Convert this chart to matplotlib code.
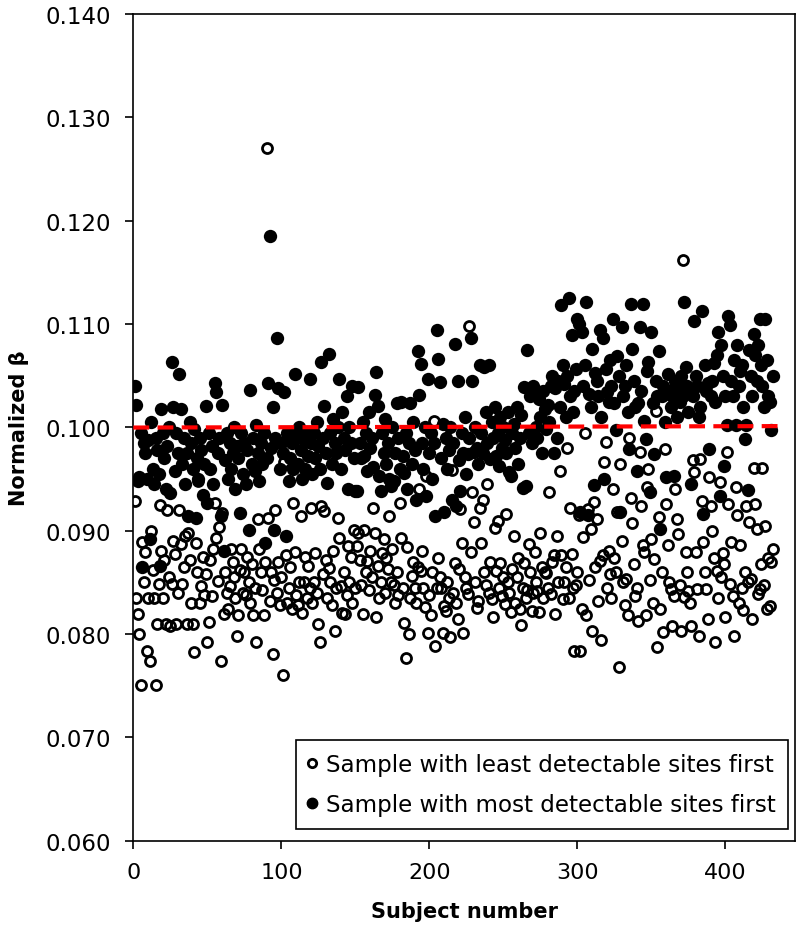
import numpy as np
import matplotlib
matplotlib.use("Agg")
import matplotlib.pyplot as plt
from matplotlib.lines import Line2D

# ---------------- data ----------------
most_first = [
    0.1040, 0.1022, 0.0948, 0.0952, 0.0995, 0.0865, 0.0985, 0.0975, 0.0950, 0.0988,
    0.0892, 0.1005, 0.0960, 0.0945, 0.0990, 0.0978, 0.0955, 0.0866, 0.1018, 0.0995,
    0.0970, 0.0940, 0.0982, 0.1000, 0.0936, 0.1063, 0.1020, 0.0958, 0.0995, 0.0975,
    0.1052, 0.1018, 0.0965, 0.0990, 0.0945, 0.0975, 0.0914, 0.1005, 0.0985, 0.0960,
    0.0998, 0.0912, 0.0970, 0.0950, 0.0990, 0.0978, 0.0935, 0.0965, 0.1021, 0.0927,
    0.0995, 0.0960, 0.0982, 0.0945, 0.1043, 0.1034, 0.0975, 0.0990, 0.0914, 0.1022,
    0.0880, 0.0968, 0.0995, 0.0950, 0.0985, 0.0960, 0.0975, 0.1000, 0.0940, 0.0982,
    0.0970, 0.0917, 0.0995, 0.0955, 0.0985, 0.0945, 0.0978, 0.0901, 0.1036, 0.0965,
    0.0990, 0.0958, 0.1002, 0.0975, 0.0948, 0.0985, 0.0965, 0.0995, 0.0888, 0.0970,
    0.1043, 0.1185, 0.0980, 0.1020, 0.0901, 0.0990, 0.1086, 0.1038, 0.0960, 0.0985,
    0.0975, 0.1034, 0.0895, 0.0995, 0.0948, 0.0970, 0.0985, 0.0960, 0.1052, 0.0995,
    0.0965, 0.1000, 0.0978, 0.0950, 0.0988, 0.0960, 0.0995, 0.0972, 0.1047, 0.0985,
    0.0955, 0.0995, 0.0970, 0.1005, 0.0982, 0.0960, 0.1063, 0.0990, 0.1021, 0.0975,
    0.0946, 0.1071, 0.0995, 0.0965, 0.1008, 0.0985, 0.0975, 0.1000, 0.1047, 0.0960,
    0.1015, 0.0990, 0.0978, 0.1030, 0.0940, 0.1000, 0.0985, 0.1040, 0.0970, 0.0938,
    0.0938, 0.1039, 0.0985, 0.0970, 0.1005, 0.0972, 0.0995, 0.0958, 0.1015, 0.0980,
    0.0990, 0.0962, 0.1031, 0.1054, 0.1021, 0.0953, 0.0938, 0.0995, 0.0975, 0.1008,
    0.0965, 0.0985, 0.0950, 0.0943, 0.1000, 0.0948, 0.0975, 0.1024, 0.0990, 0.0960,
    0.1025, 0.0972, 0.0956, 0.0995, 0.0940, 0.0985, 0.1024, 0.0965, 0.1005, 0.0978,
    0.0930, 0.1074, 0.1031, 0.1061, 0.0985, 0.0960, 0.1000, 0.0934, 0.1047, 0.0975,
    0.0995, 0.0950, 0.0985, 0.0914, 0.1094, 0.1066, 0.1044, 0.0970, 0.1003, 0.0918,
    0.0990, 0.0960, 0.0978, 0.1000, 0.0930, 0.0985, 0.1081, 0.0924, 0.1045, 0.0968,
    0.0938, 0.0995, 0.0975, 0.1010, 0.0955, 0.0974, 0.0990, 0.1086, 0.1045, 0.0976,
    0.1000, 0.0980, 0.0965, 0.1060, 0.0995, 0.0975, 0.1058, 0.1015, 0.0985, 0.1060,
    0.0969, 0.1005, 0.0990, 0.1020, 0.0972, 0.0995, 0.0963, 0.1010, 0.0980, 0.1000,
    0.0988, 0.0975, 0.1015, 0.0957, 0.0953, 0.0995, 0.1003, 0.0980, 0.1020, 0.0965,
    0.0990, 0.1012, 0.0941, 0.1039, 0.0943, 0.1075, 0.0995, 0.1030, 0.0985, 0.1040,
    0.1031, 0.1000, 0.0990, 0.1027, 0.1010, 0.0975, 0.1035, 0.1018, 0.0998, 0.1022,
    0.1005, 0.1040, 0.1050, 0.0975, 0.1038, 0.0990, 0.1045, 0.1020, 0.1118, 0.1060,
    0.1042, 0.1010, 0.1050, 0.1125, 0.1030, 0.1089, 0.1015, 0.1035, 0.1056, 0.1105,
    0.1100, 0.0918, 0.1092, 0.1040, 0.1060, 0.1121, 0.0915, 0.1032, 0.1020, 0.1076,
    0.0944, 0.1053, 0.1045, 0.1030, 0.1094, 0.1010, 0.1086, 0.0950, 0.1056, 0.1034,
    0.1025, 0.1065, 0.1040, 0.1105, 0.1024, 0.0997, 0.1069, 0.1050, 0.0918, 0.1097,
    0.1030, 0.1040, 0.1060, 0.1015, 0.0979, 0.1119, 0.1076, 0.1045, 0.1020, 0.0958,
    0.1024, 0.1097, 0.1035, 0.1119, 0.1006, 0.0989, 0.1055, 0.1063, 0.0937, 0.1092,
    0.1024, 0.0974, 0.1045, 0.1030, 0.1074, 0.0902, 0.1030, 0.1040, 0.1005, 0.0952,
    0.1052, 0.1035, 0.1020, 0.1030, 0.0953, 0.1045, 0.1010, 0.1040, 0.1025, 0.1050,
    0.1030, 0.1121, 0.1058, 0.1040, 0.1015, 0.1035, 0.0945, 0.1030, 0.1103, 0.1050,
    0.1040, 0.1010, 0.1020, 0.1113, 0.0916, 0.1060, 0.1035, 0.1043, 0.0979, 0.1030,
    0.1045, 0.1062, 0.1025, 0.1070, 0.1092, 0.0934, 0.1080, 0.1050, 0.0963, 0.1030,
    0.1002, 0.1108, 0.1099, 0.1045, 0.1030, 0.1065, 0.1002, 0.1080, 0.1040, 0.1055,
    0.1060, 0.1020, 0.0989, 0.1002, 0.0939, 0.1075, 0.1050, 0.1030, 0.1090, 0.1070,
    0.1045, 0.1080, 0.1105, 0.1060, 0.1040, 0.1020, 0.1105, 0.1065, 0.1030, 0.1025,
    0.0997, 0.1050,
]

least_first = [
    0.0929, 0.0835, 0.0819, 0.0800, 0.0751, 0.0889, 0.0850, 0.0879, 0.0784, 0.0835,
    0.0774, 0.0900, 0.0862, 0.0835, 0.0751, 0.0810, 0.0848, 0.0925, 0.0880, 0.0835,
    0.0872, 0.0810, 0.0920, 0.0855, 0.0808, 0.0848, 0.0890, 0.0877, 0.0810, 0.0840,
    0.0920, 0.0887, 0.0848, 0.0865, 0.0895, 0.0810, 0.0898, 0.0872, 0.0830, 0.0810,
    0.0783, 0.0888, 0.0860, 0.0948, 0.0830, 0.0846, 0.0875, 0.0838, 0.0858, 0.0792,
    0.0812, 0.0872, 0.0837, 0.0882, 0.0927, 0.0893, 0.0851, 0.0904, 0.0774, 0.0917,
    0.0819, 0.0860, 0.0840, 0.0824, 0.0846, 0.0882, 0.0870, 0.0855, 0.0835, 0.0798,
    0.0818, 0.0862, 0.0882, 0.0840, 0.0860, 0.0838, 0.0875, 0.0850, 0.0830, 0.0868,
    0.0818, 0.0845, 0.0792, 0.0911, 0.0882, 0.0860, 0.0843, 0.0818, 0.0870, 0.1270,
    0.0912, 0.0832, 0.0860, 0.0781, 0.0852, 0.0920, 0.0840, 0.0870, 0.0828, 0.0855,
    0.0760, 0.0966, 0.0876, 0.0830, 0.0845, 0.0865, 0.0824, 0.0927, 0.0879, 0.0838,
    0.0828, 0.0850, 0.0914, 0.0820, 0.0850, 0.0875, 0.0835, 0.0866, 0.0845, 0.0922,
    0.0830, 0.0850, 0.0878, 0.0840, 0.0810, 0.0792, 0.0924, 0.0858, 0.0919, 0.0872,
    0.0835, 0.0864, 0.0850, 0.0828, 0.0880, 0.0803, 0.0845, 0.0912, 0.0893, 0.0846,
    0.0820, 0.0860, 0.0819, 0.0838, 0.0885, 0.0850, 0.0875, 0.0830, 0.0901, 0.0845,
    0.0885, 0.0898, 0.0872, 0.0847, 0.0819, 0.0901, 0.0860, 0.0871, 0.0843, 0.0880,
    0.0855, 0.0922, 0.0898, 0.0816, 0.0866, 0.0835, 0.0850, 0.0878, 0.0892, 0.0840,
    0.0874, 0.0863, 0.0914, 0.0850, 0.0882, 0.0847, 0.0830, 0.0860, 0.0838, 0.0927,
    0.0893, 0.0845, 0.0811, 0.0777, 0.0884, 0.0800, 0.0835, 0.0856, 0.0870, 0.0845,
    0.0830, 0.0865, 0.0940, 0.0861, 0.0880, 0.0845, 0.0826, 0.0953, 0.0801, 0.0838,
    0.0818, 0.0860, 0.1006, 0.0788, 0.0845, 0.0874, 0.0855, 0.0845, 0.0801, 0.0827,
    0.0822, 0.0850, 0.0835, 0.0797, 0.0959, 0.0840, 0.0869, 0.0830, 0.0815, 0.0863,
    0.0921, 0.0888, 0.0801, 0.0855, 0.0845, 0.0839, 0.1098, 0.0879, 0.0937, 0.0908,
    0.0850, 0.0825, 0.0832, 0.0922, 0.0888, 0.0930, 0.0860, 0.0847, 0.0945, 0.0840,
    0.0870, 0.0834, 0.0816, 0.0903, 0.0861, 0.0909, 0.0845, 0.0869, 0.0837, 0.0855,
    0.0829, 0.0916, 0.0850, 0.0840, 0.0821, 0.0863, 0.0895, 0.0830, 0.0855, 0.0874,
    0.0824, 0.0809, 0.0845, 0.0869, 0.0835, 0.0843, 0.0887, 0.0860, 0.0822, 0.0840,
    0.0879, 0.0850, 0.0842, 0.0821, 0.0898, 0.0865, 0.0835, 0.0860, 0.0859, 0.0845,
    0.0937, 0.0839, 0.0870, 0.0876, 0.0819, 0.0895, 0.0850, 0.0958, 0.0876, 0.0834,
    0.0850, 0.0865, 0.0980, 0.0835, 0.0922, 0.0877, 0.0845, 0.0784, 0.0847, 0.0860,
    0.0915, 0.0784, 0.0824, 0.0894, 0.0995, 0.0818, 0.0921, 0.0852, 0.0902, 0.0803,
    0.0928, 0.0865, 0.0911, 0.0832, 0.0871, 0.0794, 0.0876, 0.0966, 0.0986, 0.0845,
    0.0880, 0.0858, 0.0835, 0.0940, 0.0874, 0.0860, 0.0918, 0.0768, 0.0965, 0.0890,
    0.0850, 0.0828, 0.0853, 0.0818, 0.0990, 0.0932, 0.0907, 0.0868, 0.0837, 0.0845,
    0.0813, 0.0976, 0.0924, 0.0886, 0.0879, 0.0818, 0.0942, 0.0960, 0.0852, 0.0892,
    0.0830, 0.0873, 0.1016, 0.0787, 0.0913, 0.0824, 0.0860, 0.0802, 0.0979, 0.0926,
    0.0886, 0.0850, 0.0844, 0.0808, 0.0837, 0.0940, 0.0911, 0.0897, 0.0847, 0.0803,
    0.1162, 0.0836, 0.0879, 0.0860, 0.0842, 0.0830, 0.0808, 0.0968, 0.0957, 0.0879,
    0.0844, 0.0798, 0.0969, 0.0929, 0.0889, 0.0860, 0.0844, 0.0815, 0.0952, 0.0924,
    0.0900, 0.0874, 0.0792, 0.0861, 0.0835, 0.0947, 0.0855, 0.0878, 0.0868, 0.0816,
    0.0976, 0.0926, 0.0848, 0.0889, 0.0837, 0.0798, 0.0942, 0.0915, 0.0830, 0.0886,
    0.0845, 0.0823, 0.0860, 0.0924, 0.0850, 0.0908, 0.0853, 0.0815, 0.0961, 0.0926,
    0.0902, 0.0839, 0.0844, 0.0868, 0.0961, 0.0847, 0.0905, 0.0824, 0.0874, 0.0827,
    0.0870, 0.0882,
]

subjects = np.arange(1, len(most_first) + 1)
trend_x = [0, 436]
trend_y = [0.09998, 0.10012]

x_ticks = [0, 100, 200, 300, 400]
y_ticks = [0.060, 0.070, 0.080, 0.090, 0.100, 0.110, 0.120, 0.130, 0.140]
y_ticklabels = ["0.060", "0.070", "0.080", "0.090", "0.100", "0.110", "0.120", "0.130", "0.140"]

label_least = "Sample with least detectable sites first"
label_most = "Sample with most detectable sites first"

# ---------------- figure ----------------
plt.rcParams['font.family'] = ['DejaVu Sans']

fig = plt.figure(figsize=(8.0, 9.37), dpi=100)
ax = fig.add_axes([0.1667, 0.1017, 0.8271, 0.8823])

ax.plot(subjects, least_first, linestyle='none', marker='o', markersize=7.2,
        markerfacecolor='none', markeredgecolor='black', markeredgewidth=2.0, zorder=2)
ax.plot(subjects, most_first, linestyle='none', marker='o', markersize=9.6,
        markerfacecolor='black', markeredgecolor='black', markeredgewidth=0, zorder=3)
ax.plot(trend_x, trend_y, color='#ff0000', linewidth=3.0, dashes=(3.8, 2.0), zorder=4)

ax.set_xlim(0, 447)
ax.set_ylim(0.060, 0.140)
ax.set_xticks(x_ticks)
ax.set_yticks(y_ticks)
ax.set_yticklabels(y_ticklabels, fontsize=16.5)
ax.tick_params(axis='x', labelsize=16, direction='out', length=6, width=1.2, pad=9)
ax.tick_params(axis='y', direction='out', length=6, width=1.2, pad=10)
for sp in ax.spines.values():
    sp.set_linewidth(1.2)

ax.set_xlabel("Subject number", fontsize=15, fontweight='bold', labelpad=14)
ax.set_ylabel("Normalized β", fontsize=15, fontweight='bold', labelpad=12)

handles = [
    Line2D([], [], linestyle='none', marker='o', markersize=6.0, markerfacecolor='none',
           markeredgecolor='black', markeredgewidth=2.0),
    Line2D([], [], linestyle='none', marker='o', markersize=7.5, markerfacecolor='black',
           markeredgecolor='black'),
]
leg = ax.legend(handles, [label_least, label_most], loc='lower right',
                bbox_to_anchor=(0.9894, 0.0142), fontsize=16.6, frameon=True, fancybox=False,
                edgecolor='black', framealpha=1, handlelength=0.35, handletextpad=0.4,
                borderpad=0.55, labelspacing=0.75, borderaxespad=0)
leg.get_frame().set_linewidth(1.2)

fig.savefig("out.png", dpi=100)
